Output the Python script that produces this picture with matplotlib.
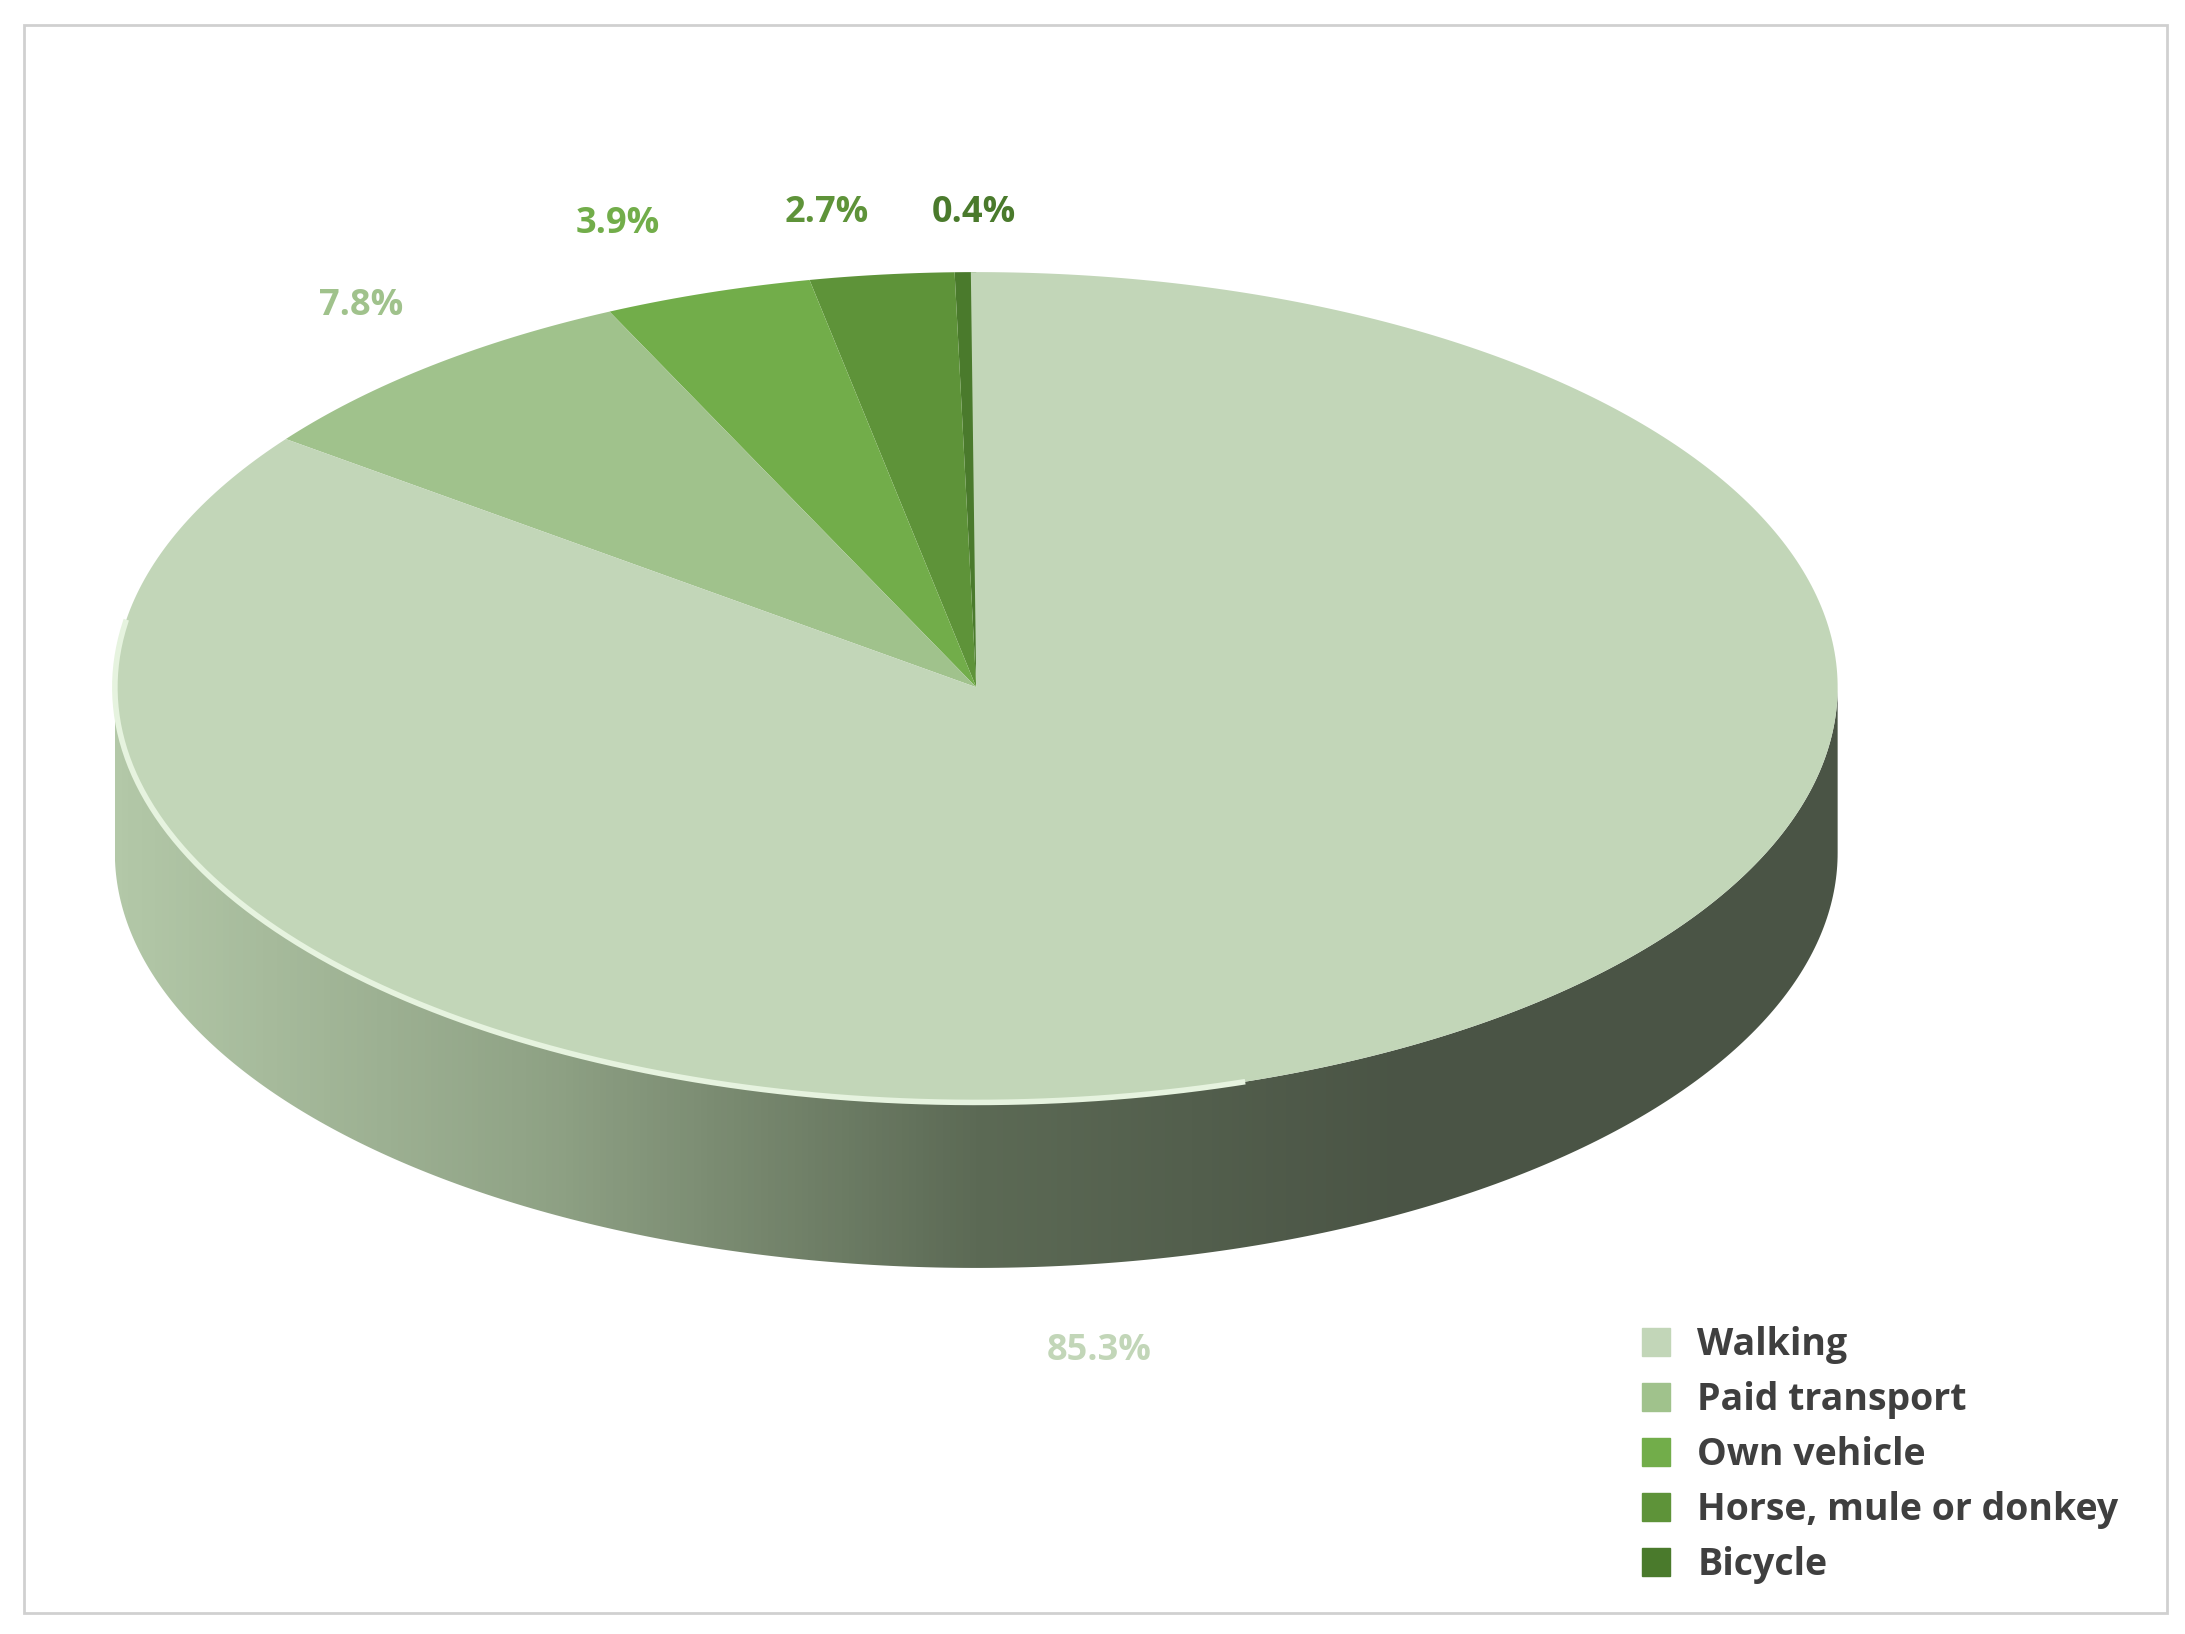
import numpy as np
import matplotlib.pyplot as plt
from matplotlib.patches import Polygon, Rectangle
from matplotlib.lines import Line2D
from matplotlib.colors import LinearSegmentedColormap

categories = ['Walking', 'Paid transport', 'Own vehicle', 'Horse, mule or donkey', 'Bicycle']
shares = [85.3, 7.8, 3.9, 2.7, 0.4]
labels = ['85.3%', '7.8%', '3.9%', '2.7%', '0.4%']
colors = ['#c2d6b8', '#a0c28c', '#72ad4a', '#5e9339', '#4a7a2c']
label_colors = ['#c2d6b8', '#a0c28c', '#72ad4a', '#5e9339', '#4a7a2c']

W, H = 1560, 1165
cx, cy, a, b, depth = 697, 490, 615, 296, 118

fig = plt.figure(figsize=(21.85, 16.34), dpi=100)
ax = fig.add_axes([0, 0, 1, 1])
ax.set_xlim(0, W)
ax.set_ylim(H, 0)
ax.axis('off')
ax.add_patch(Rectangle((17, 18), 1530, 1132, fill=False, ec='#d0d0d0', lw=2))


def pt(theta, dy=0):
    return cx + a * np.cos(theta), cy - b * np.sin(theta) + dy


# side of the disc (front half) with a horizontal gradient
t = np.linspace(np.pi, 2 * np.pi, 300)
top = np.array([pt(x) for x in t])
bot = np.array([pt(x, depth) for x in t])[::-1]
side = Polygon(np.vstack([top, bot]), closed=True, fc='none', ec='none')
ax.add_patch(side)
cmap = LinearSegmentedColormap.from_list('side', ['#b3c8a8', '#8fa285', '#5c6a55', '#4a5445', '#4a5445'])
grad = np.linspace(0, 1, 256)[None, :]
im = ax.imshow(grad, cmap=cmap, extent=[cx - a, cx + a, cy + b + depth, cy - 10],
               aspect='auto', zorder=1)
im.set_clip_path(side)

# top face wedges: counterclockwise from 12 o'clock, small slices first
start = np.pi / 2
for i in range(len(shares) - 1, -1, -1):
    span = shares[i] / 100 * 2 * np.pi
    tt = np.linspace(start, start + span, max(3, int(span * 80)))
    pts = [(cx, cy - 50 * 0)] + [pt(x) for x in tt]
    ax.add_patch(Polygon(pts, closed=True, fc=colors[i], ec='none', zorder=2))
    start += span

# light rim highlight on the front edge
rim = np.array([pt(x) for x in np.linspace(np.pi * 0.95, np.pi * 1.6, 200)])
ax.plot(rim[:, 0], rim[:, 1], color='#e6f3df', lw=4, zorder=3)

label_pos = [(785, 963), (258, 218), (441, 160), (590, 152), (695, 152)]
for lab, (x, y), c in zip(labels, label_pos, label_colors):
    ax.text(x, y, lab, color=c, fontsize=26, fontweight='bold', family='Open Sans',
            ha='center', va='center')

handles = [Line2D([], [], marker='s', ls='none', markersize=20, color=c) for c in colors]
ax.legend(handles, categories, loc='lower right', bbox_to_anchor=(0.985, 0.01), frameon=False,
          prop={'family': 'Open Sans', 'weight': 'bold', 'size': 27}, labelcolor='#3f3f3f',
          handletextpad=0.1, labelspacing=0.45)

fig.savefig('out.png', dpi=100)
